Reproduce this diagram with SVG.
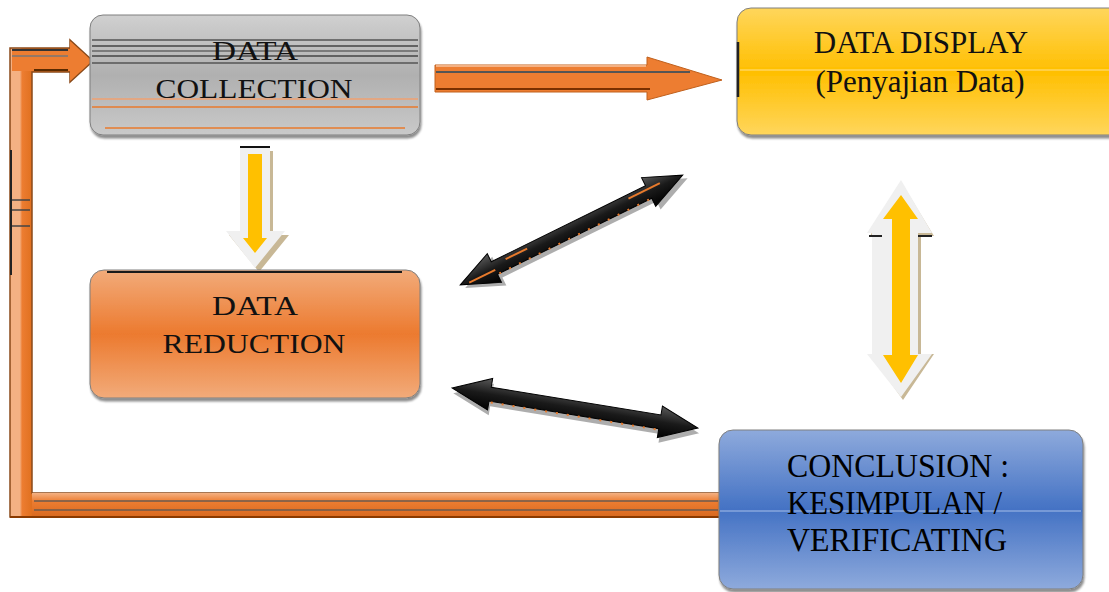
<svg xmlns="http://www.w3.org/2000/svg" width="1109" height="592" viewBox="0 0 1109 592">
<defs>
<linearGradient id="gGray" x1="0" y1="0" x2="0" y2="1">
<stop offset="0" stop-color="#d0d0d0"/><stop offset="0.5" stop-color="#b0b0b0"/><stop offset="1" stop-color="#c9c9c9"/>
</linearGradient>
<linearGradient id="gOrange" x1="0" y1="0" x2="0" y2="1">
<stop offset="0" stop-color="#f2ab7a"/><stop offset="0.5" stop-color="#ec7a2f"/><stop offset="1" stop-color="#f2ab7a"/>
</linearGradient>
<linearGradient id="gYellow" x1="0" y1="0" x2="0" y2="1">
<stop offset="0" stop-color="#ffd65c"/><stop offset="0.5" stop-color="#ffbf00"/><stop offset="1" stop-color="#ffd65c"/>
</linearGradient>
<linearGradient id="gBlue" x1="0" y1="0" x2="0" y2="1">
<stop offset="0" stop-color="#8eaadc"/><stop offset="0.5" stop-color="#4472c4"/><stop offset="1" stop-color="#8eaadc"/>
</linearGradient>
<linearGradient id="gConnV" gradientUnits="userSpaceOnUse" x1="10" y1="0" x2="32" y2="0">
<stop offset="0" stop-color="#f4b183"/><stop offset="0.45" stop-color="#f4b183"/><stop offset="0.55" stop-color="#ed7d31"/><stop offset="1" stop-color="#e0701f"/>
</linearGradient>
<linearGradient id="gConnH" x1="0" y1="0" x2="0" y2="1">
<stop offset="0" stop-color="#f4b183"/><stop offset="0.35" stop-color="#ed7d31"/><stop offset="1" stop-color="#d8691f"/>
</linearGradient>
<linearGradient id="gBlack" x1="0" y1="0" x2="0" y2="1">
<stop offset="0" stop-color="#5a5a5a"/><stop offset="0.5" stop-color="#1a1a1a"/><stop offset="1" stop-color="#000"/>
</linearGradient>
<filter id="sh" x="-10%" y="-10%" width="120%" height="130%">
<feDropShadow dx="1" dy="3" stdDeviation="1.2" flood-color="#000" flood-opacity="0.45"/>
</filter>
</defs>
<style>
.box{stroke:#7f7f7f;stroke-width:1;filter:url(#sh)}
.lbl{font-family:"Liberation Serif","Times New Roman",serif;text-anchor:middle;fill:#111}
.lbl2{font-family:"Liberation Serif","Times New Roman",serif;fill:#000}
.blk{fill:url(#gBlack);stroke:#000;stroke-width:1}
.blksh{fill:#8a8a8a;opacity:0.7}
.dot{stroke:#e87a2c;stroke-width:2;stroke-dasharray:2 9}
</style>

<g id="connectors">
<path d="M10,517 L10,48 L70,48 L70,40 L93,61 L70,82 L70,72 L32,72 L32,493 L720,493 L720,517 Z" fill="url(#gConnV)" stroke="#8a4a1a" stroke-width="1.5"/>
<path d="M12,49 L70,49 L70,41 L92,61 L70,81 L70,71 L12,71 Z" fill="#ed7d31"/>
<rect x="32" y="493" width="688" height="24" fill="url(#gConnH)"/>
<line x1="34" y1="501" x2="718" y2="501" stroke="#6b5a4e" stroke-width="1.5"/>
<line x1="34" y1="510" x2="718" y2="510" stroke="#6b5a4e" stroke-width="1.5"/>
<line x1="10" y1="517" x2="720" y2="517" stroke="#8a3a00" stroke-width="2"/>
<line x1="11" y1="150" x2="11" y2="275" stroke="#222" stroke-width="2"/>
<line x1="12" y1="200" x2="30" y2="200" stroke="#444" stroke-width="1.5"/>
<line x1="12" y1="210" x2="30" y2="210" stroke="#444" stroke-width="1.5"/>
<line x1="12" y1="226" x2="30" y2="226" stroke="#444" stroke-width="1.5"/>
<line x1="12" y1="50" x2="68" y2="50" stroke="#333" stroke-width="2"/>
<line x1="12" y1="56" x2="68" y2="56" stroke="#777" stroke-width="1.5"/>
<line x1="34" y1="70" x2="68" y2="70" stroke="#5a2a00" stroke-width="2"/>

<path d="M435,65 L647,65 L647,57 L722,80 L647,100 L647,92 L435,92 Z" fill="#ed7d31" stroke="#c0601c" stroke-width="1"/>
<line x1="436" y1="72" x2="690" y2="72" stroke="#555" stroke-width="2"/>
<line x1="436" y1="89" x2="650" y2="89" stroke="#7a3000" stroke-width="2"/>
<line x1="436" y1="66" x2="646" y2="66" stroke="#f4b183" stroke-width="2"/>

<path d="M242,149 L270,149 L270,233 L286,233 L256,270 L226,233 L242,233 Z" fill="#c8b896" transform="translate(3,2)"/>
<path d="M240,147 L270,147 L270,231 L285,231 L255,268 L226,231 L240,231 Z" fill="#f0f0f0"/>
<line x1="240" y1="147" x2="270" y2="147" stroke="#111" stroke-width="2"/>
<path d="M248,154 L262,154 L262,238 L267,238 L255,253 L243,238 L248,238 Z" fill="#ffc000"/>

<path d="M901,182 L934,236 L921,236 L921,354 L934,354 L903,400 L870,354 L874,354 L874,236 L870,236 Z" fill="#c8b896"/>
<path d="M901,180 L932,233 L918,233 L918,354 L932,354 L901,397 L867,354 L872,354 L872,233 L867,233 Z" fill="#f0f0f0"/>
<line x1="869" y1="236" x2="882" y2="236" stroke="#222" stroke-width="2"/>
<line x1="918" y1="236" x2="932" y2="236" stroke="#222" stroke-width="2"/>
<path d="M901,195 L918,219 L910,219 L910,355 L918,355 L901,383 L883,355 L892,355 L892,219 L883,219 Z" fill="#ffc000"/>

<g transform="translate(571.5,230) rotate(-26.26)">
<path class="blksh" transform="translate(3,5)" d="M-124,0 L-86,-16 L-86,-7 L86,-7 L86,-16 L124,0 L86,16 L86,7 L-86,7 L-86,16 Z"/>
<path class="blk" d="M-124,0 L-86,-16 L-86,-7 L86,-7 L86,-16 L124,0 L86,16 L86,7 L-86,7 L-86,16 Z"/>
<line class="dot" x1="-84" y1="7" x2="84" y2="7"/>
<line x1="-115" y1="2" x2="-86" y2="2" stroke="#e87a2c" stroke-width="2"/>
<line x1="-72" y1="-3" x2="-48" y2="-3" stroke="#e87a2c" stroke-width="2"/>
<line x1="65" y1="-3" x2="100" y2="-3" stroke="#e87a2c" stroke-width="2"/>
</g>

<g transform="translate(575,408) rotate(9.24)">
<path class="blksh" transform="translate(2,5)" d="M-124.5,0 L-86,-16 L-86,-7 L86,-7 L86,-16 L124.5,0 L86,16 L86,7 L-86,7 L-86,16 Z"/>
<path class="blk" d="M-124.5,0 L-86,-16 L-86,-7 L86,-7 L86,-16 L124.5,0 L86,16 L86,7 L-86,7 L-86,16 Z"/>
<line class="dot" x1="-84" y1="8" x2="84" y2="8"/>
</g>
</g>

<g id="data-collection">
<rect class="box" x="90" y="15" width="330" height="120" rx="13" fill="url(#gGray)"/>
<g stroke-width="1.5">
<line x1="92" y1="40" x2="418" y2="40" stroke="#555"/>
<line x1="92" y1="46" x2="418" y2="46" stroke="#444"/>
<line x1="92" y1="51" x2="418" y2="51" stroke="#666"/>
<line x1="92" y1="56" x2="418" y2="56" stroke="#444"/>
<line x1="92" y1="63" x2="418" y2="63" stroke="#555"/>
<line x1="92" y1="99" x2="418" y2="99" stroke="#f0a070"/>
<line x1="92" y1="107" x2="418" y2="107" stroke="#e87a2c"/>
<line x1="105" y1="128" x2="405" y2="128" stroke="#e87a2c"/>
</g>
<text class="lbl" x="255" y="60" font-size="27" textLength="86" lengthAdjust="spacingAndGlyphs">DATA</text>
<text class="lbl" x="254" y="98" font-size="27" textLength="197" lengthAdjust="spacingAndGlyphs">COLLECTION</text>
</g>

<g id="data-display">
<rect class="box" x="737" y="8" width="390" height="127" rx="14" fill="url(#gYellow)" stroke="#c89a00"/>
<line x1="738" y1="42" x2="738" y2="97" stroke="#222" stroke-width="2.5"/>
<line x1="740" y1="70" x2="1109" y2="70" stroke="#ffe08a" stroke-width="1"/>
<text class="lbl" x="921" y="53" font-size="31" fill="#000">DATA DISPLAY</text>
<text class="lbl" x="920" y="92" font-size="31" fill="#000">(Penyajian Data)</text>
</g>

<g id="data-reduction">
<rect class="box" x="90" y="270" width="330" height="128" rx="14" fill="url(#gOrange)" stroke="#c0601c"/>
<line x1="107" y1="272" x2="402" y2="272" stroke="#1a1a1a" stroke-width="2"/>
<text class="lbl" x="255" y="315" font-size="27" textLength="86" lengthAdjust="spacingAndGlyphs">DATA</text>
<text class="lbl" x="254" y="353" font-size="27" textLength="183" lengthAdjust="spacingAndGlyphs">REDUCTION</text>
</g>

<g id="conclusion">
<rect class="box" x="719" y="430" width="364" height="159" rx="14" fill="url(#gBlue)" stroke="#2f5597"/>
<line x1="720" y1="511" x2="1081" y2="511" stroke="#a8c0ea" stroke-width="1"/>
<text class="lbl2" x="787" y="477" font-size="33" textLength="222" lengthAdjust="spacingAndGlyphs">CONCLUSION :</text>
<text class="lbl2" x="787" y="514" font-size="33" textLength="215" lengthAdjust="spacingAndGlyphs">KESIMPULAN /</text>
<text class="lbl2" x="787" y="551" font-size="33" textLength="220" lengthAdjust="spacingAndGlyphs">VERIFICATING</text>
</g>
</svg>
